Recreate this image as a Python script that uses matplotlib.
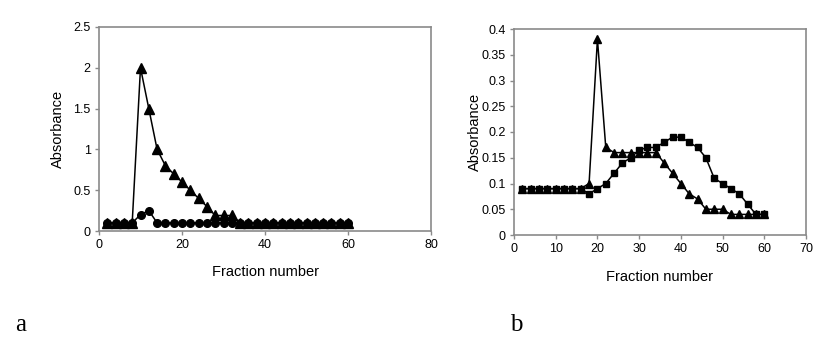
import matplotlib
matplotlib.use("Agg")
import matplotlib.pyplot as plt

plt.rcParams['font.family'] = ['Liberation Sans', 'DejaVu Sans']

# Panel a data
frac_a = list(range(2, 61, 2))
tri_a = [0.1, 0.1, 0.1, 0.1, 2.0, 1.5, 1.0, 0.8, 0.7, 0.6, 0.5, 0.4, 0.3, 0.19, 0.19,
         0.19, 0.1, 0.1, 0.1, 0.1, 0.1, 0.1, 0.1, 0.1, 0.1, 0.1, 0.1, 0.1, 0.1, 0.1]
circ_a = [0.1, 0.1, 0.1, 0.1, 0.2, 0.25, 0.1, 0.1, 0.1, 0.1, 0.1, 0.1, 0.1, 0.1, 0.1,
          0.1, 0.1, 0.1, 0.1, 0.1, 0.1, 0.1, 0.1, 0.1, 0.1, 0.1, 0.1, 0.1, 0.1, 0.1]

# Panel b data
frac_b = list(range(2, 61, 2))
tri_b = [0.09, 0.09, 0.09, 0.09, 0.09, 0.09, 0.09, 0.09, 0.10, 0.38, 0.17, 0.16, 0.16, 0.16, 0.16,
         0.16, 0.16, 0.14, 0.12, 0.10, 0.08, 0.07, 0.05, 0.05, 0.05, 0.04, 0.04, 0.04, 0.04, 0.04]
sq_b = [0.09, 0.09, 0.09, 0.09, 0.09, 0.09, 0.09, 0.09, 0.08, 0.09, 0.10, 0.12, 0.14, 0.15, 0.165,
        0.17, 0.17, 0.18, 0.19, 0.19, 0.18, 0.17, 0.15, 0.11, 0.10, 0.09, 0.08, 0.06, 0.04, 0.04]

xticks_a = [0, 20, 40, 60, 80]
yticks_a = [0, 0.5, 1, 1.5, 2, 2.5]
yticklabels_a = ['0', '0.5', '1', '1.5', '2', '2.5']
xticks_b = [0, 10, 20, 30, 40, 50, 60, 70]
yticks_b = [0, 0.05, 0.1, 0.15, 0.2, 0.25, 0.3, 0.35, 0.4]
yticklabels_b = ['0', '0.05', '0.1', '0.15', '0.2', '0.25', '0.3', '0.35', '0.4']

W, H = 835, 350
fig = plt.figure(figsize=(W / 100, H / 100), dpi=100)
fig.patch.set_facecolor('white')

def px_axes(l, t, r, b):
    return fig.add_axes([l / W, (H - b) / H, (r - l) / W, (b - t) / H])

spine_c = '#8a8a8a'

def style(ax):
    for s in ax.spines.values():
        s.set_color(spine_c)
        s.set_linewidth(1.2)
    ax.tick_params(direction='out', length=3, width=1, color=spine_c,
                   labelsize=9, labelcolor='black', pad=3)

# Panel a
axa = px_axes(99, 27, 431, 231)
axa.plot(frac_a, circ_a, color='black', lw=1.1, marker='o', ms=5.5, zorder=3)
axa.plot(frac_a, tri_a, color='black', lw=1.1, marker='^', ms=7, zorder=4)
axa.set_xlim(0, 80)
axa.set_ylim(0, 2.5)
axa.set_xticks(xticks_a)
axa.set_yticks(yticks_a)
axa.set_yticklabels(yticklabels_a)
style(axa)
axa.set_xlabel('Fraction number', fontsize=10.5)
axa.set_ylabel('Absorbance', fontsize=10.5)
axa.xaxis.label.set_va('center')
axa.yaxis.label.set_va('center')
axa.xaxis.set_label_coords(0.5, -(272 - 231) / 204)
axa.yaxis.set_label_coords((58 - 99) / 332, 0.5)

# Panel b
axb = px_axes(514, 29, 806, 235)
axb.plot(frac_b, tri_b, color='black', lw=1.1, marker='^', ms=6, zorder=3)
axb.plot(frac_b, sq_b, color='black', lw=1.1, marker='s', ms=5, zorder=4)
axb.set_xlim(0, 70)
axb.set_ylim(0, 0.4)
axb.set_xticks(xticks_b)
axb.set_yticks(yticks_b)
axb.set_yticklabels(yticklabels_b)
style(axb)
axb.set_xlabel('Fraction number', fontsize=10.5)
axb.set_ylabel('Absorbance', fontsize=10.5)
axb.xaxis.label.set_va('center')
axb.yaxis.label.set_va('center')
axb.xaxis.set_label_coords(0.5, -(277 - 235) / 206)
axb.yaxis.set_label_coords((475 - 514) / 292, 0.5)

fig.text(21 / W, (H - 325) / H, 'a', family='Liberation Serif', fontsize=18,
         ha='center', va='center')
fig.text(516 / W, (H - 325) / H, 'b', family='Liberation Serif', fontsize=18,
         ha='center', va='center')

fig.savefig('out.png', dpi=100, facecolor='white')
